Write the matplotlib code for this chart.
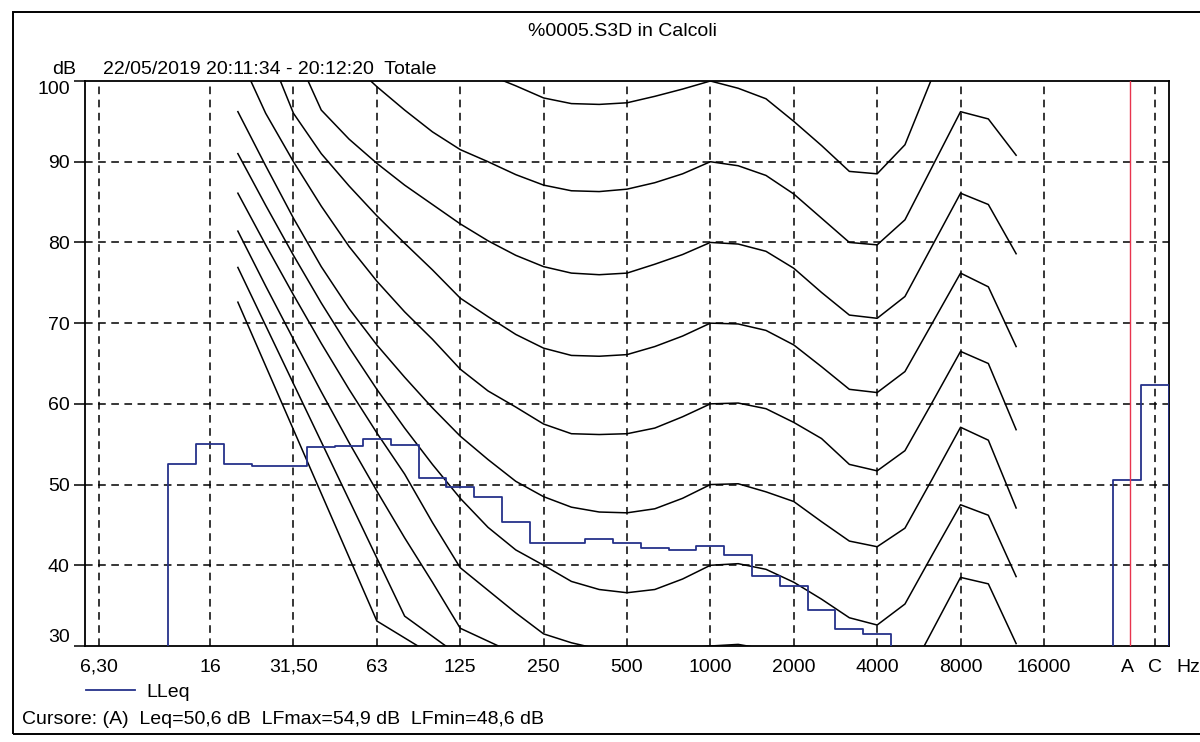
import numpy as np
import matplotlib.pyplot as plt
from matplotlib.patches import Rectangle

plt.rcParams['font.family'] = ['Liberation Sans', 'DejaVu Sans']

# 1/3 octave bands from 6,3 Hz (index 0) to 20 kHz (index 35), then A and C
tick_pos = [0, 4, 7, 10, 13, 16, 19, 22, 25, 28, 31, 34, 37, 38]
tick_labels = ['6,30', '16', '31,50', '63', '125', '250', '500', '1000',
               '2000', '4000', '8000', '16000', 'A', 'C']
grid_x = [0, 4, 7, 10, 13, 16, 19, 22, 25, 28, 31, 34, 38]

# equal loudness curves, 20 Hz (index 5) .. 12,5 kHz (index 33)
curve_idx = list(range(5, 34))
phon_0 = [72.6, 64.7, 56.8, 48.9, 41.0, 33.1, 31.0, 28.9, 27.0, 25.0, 23.0, 21.0, 19.0, 17.0, 15.0,
          14.0, 13.0, 12.0, 12.0, 10.0, 8.0, 6.0, 4.0, 4.0, 6.0, 11.0, 16.0, 15.0, 10.0]
phon_10 = [76.9, 69.7, 62.5, 55.3, 48.1, 40.9, 33.7, 31.2, 28.7, 26.5, 24.5, 23.0, 21.5, 20.5, 19.5,
           19.0, 18.5, 18.0, 18.0, 17.0, 15.0, 12.0, 10.0, 10.0, 12.0, 17.0, 22.0, 21.0, 15.0]
phon_20 = [81.4, 74.6, 68.0, 61.5, 55.2, 49.2, 43.4, 37.9, 32.2, 30.6, 29.0, 27.5, 26.0, 24.5, 23.0,
           22.0, 21.0, 20.0, 20.0, 19.0, 17.0, 14.0, 12.0, 12.0, 15.0, 21.0, 28.0, 27.0, 21.0]
phon_30 = [86.1, 79.7, 73.5, 67.5, 61.8, 56.4, 51.3, 45.3, 39.7, 36.9, 34.1, 31.5, 30.4, 29.6, 29.3,
           29.4, 29.7, 30.0, 30.2, 29.6, 28.0, 25.5, 23.0, 22.8, 25.5, 32.0, 38.5, 37.7, 30.3]
phon_40 = [91.0, 84.6, 78.4, 72.5, 67.0, 61.8, 57.0, 52.5, 48.3, 44.7, 41.9, 40.0, 38.0, 37.0, 36.6,
           37.0, 38.3, 40.0, 40.2, 39.5, 37.9, 35.8, 33.5, 32.6, 35.2, 41.4, 47.5, 46.2, 38.6]
phon_50 = [96.2, 89.5, 83.0, 77.0, 71.8, 67.3, 63.3, 59.5, 56.0, 53.1, 50.4, 48.5, 47.2, 46.6, 46.5,
           47.0, 48.3, 50.0, 50.1, 49.1, 47.9, 45.4, 43.0, 42.3, 44.6, 50.8, 57.1, 55.5, 47.1]
phon_60 = [103.5, 96.0, 90.0, 84.5, 79.5, 75.2, 71.4, 68.0, 64.3, 61.6, 59.6, 57.5, 56.3, 56.2, 56.3,
           57.0, 58.4, 60.0, 60.1, 59.4, 57.7, 55.7, 52.5, 51.7, 54.2, 60.3, 66.5, 65.0, 56.8]
phon_70 = [110.0, 104.5, 96.0, 91.0, 87.0, 83.3, 79.9, 76.6, 73.1, 70.8, 68.6, 66.9, 66.0, 65.9, 66.1,
           67.1, 68.4, 70.0, 69.9, 69.1, 67.3, 64.6, 61.8, 61.4, 64.0, 70.1, 76.2, 74.5, 67.1]
phon_80 = [115.0, 110.0, 104.0, 96.4, 92.8, 89.8, 87.1, 84.7, 82.3, 80.2, 78.4, 77.0, 76.2, 76.0, 76.2,
           77.3, 78.5, 80.0, 79.8, 78.9, 76.8, 73.8, 71.0, 70.6, 73.3, 79.7, 86.1, 84.7, 78.6]
phon_90 = [118.0, 114.0, 110.0, 106.0, 102.5, 99.3, 96.4, 93.7, 91.5, 90.0, 88.4, 87.1, 86.4, 86.3, 86.6,
           87.4, 88.5, 90.0, 89.5, 88.3, 86.0, 83.0, 80.0, 79.7, 82.8, 89.5, 96.2, 95.3, 90.8]
phon_100 = [125.0, 121.0, 117.0, 113.0, 110.0, 107.0, 105.5, 104.0, 102.5, 100.8, 99.4, 97.9, 97.2, 97.1, 97.3,
            98.1, 99.0, 100.0, 99.1, 97.8, 95.0, 92.0, 88.8, 88.5, 92.1, 100.6, 107.0, 106.0, 101.0]
curves = [phon_0, phon_10, phon_20, phon_30, phon_40, phon_50,
          phon_60, phon_70, phon_80, phon_90, phon_100]

# LLeq spectrum, 12,5 Hz (index 3) .. 4000 Hz (index 28)
lleq_idx = list(range(3, 29))
lleq = [52.6, 55.0, 52.5, 52.3, 52.3, 54.6, 54.8, 55.6, 54.9, 50.8, 49.7, 48.5, 45.4,
        42.8, 42.8, 43.2, 42.8, 42.1, 41.9, 42.4, 41.3, 38.7, 37.4, 34.5, 32.1, 31.5]
# overall A and C
total_idx = [37, 38]
total_vals = [50.6, 62.3]

fig = plt.figure(figsize=(12, 7.42), dpi=100)
ax = fig.add_axes([85 / 1200, 1 - 646 / 742, 1084 / 1200, 565 / 742])

dash = (0, (5, 3.6))
for y in [40, 50, 60, 70, 80, 90]:
    ax.axhline(y, color='black', lw=1.1, linestyle=dash, zorder=1)
for x in grid_x:
    ax.axvline(x, color='black', lw=1.1, linestyle=dash, zorder=1)

for c in curves:
    ax.plot(curve_idx, c, color='black', lw=1.1, zorder=2)


def steps(idx, vals):
    idx = np.array(idx, dtype=float)
    xs = np.column_stack([idx - 0.5, idx + 0.5]).ravel()
    ys = np.repeat(vals, 2)
    return np.r_[xs[0], xs, xs[-1]], np.r_[20, ys, 20]


blue = '#25318a'
sx, sy = steps(lleq_idx, lleq)
ax.plot(sx, sy, color=blue, lw=1.3, zorder=3, label='LLeq')
tx, ty = steps(total_idx, total_vals)
ax.plot(tx, ty, color=blue, lw=1.3, zorder=3)
ax.axvline(37.1, color='#e8344e', lw=1.0, zorder=4)

ax.set_xlim(-0.5, 38.5)
ax.set_ylim(30, 100)
ax.set_yticks(range(30, 101, 10))
ax.set_xticks(tick_pos)
ax.set_xticklabels(tick_labels)
ax.tick_params(axis='x', length=0, labelsize=14, pad=9)
ax.tick_params(axis='y', length=8, width=1.1, labelsize=14, pad=3)
ylabels = ax.get_yticklabels()
ylabels[0].set_verticalalignment('bottom')
ylabels[-1].set_verticalalignment('top')
for s in ax.spines.values():
    s.set_linewidth(1.3)

fig.text(1188 / 1200, 1 - 668 / 742, 'Hz', fontsize=14, ha='center', va='center')
fig.text(622 / 1200, 1 - 32 / 742, '%0005.S3D in Calcoli', fontsize=14, ha='center', va='center')
fig.text(64 / 1200, 1 - 70 / 742, 'dB', fontsize=14, ha='center', va='center')
fig.text(103 / 1200, 1 - 70 / 742, '22/05/2019 20:11:34 - 20:12:20  Totale', fontsize=14,
         ha='left', va='center')
fig.text(22 / 1200, 1 - 720 / 742, 'Cursore: (A)  Leq=50,6 dB  LFmax=54,9 dB  LFmin=48,6 dB',
         fontsize=14, ha='left', va='center')

leg = ax.legend(loc='upper left', bbox_to_anchor=(86 / 1200, 1 - 683 / 742),
                bbox_transform=fig.transFigure, frameon=False, fontsize=14,
                handlelength=2.5, handletextpad=0.6, borderpad=0, borderaxespad=0)

fig.add_artist(Rectangle((13 / 1200, 1 - 734 / 742), 1.2, 722 / 742, fill=False,
                         lw=1.4, color='black', transform=fig.transFigure))

fig.savefig('out.png', dpi=100)
